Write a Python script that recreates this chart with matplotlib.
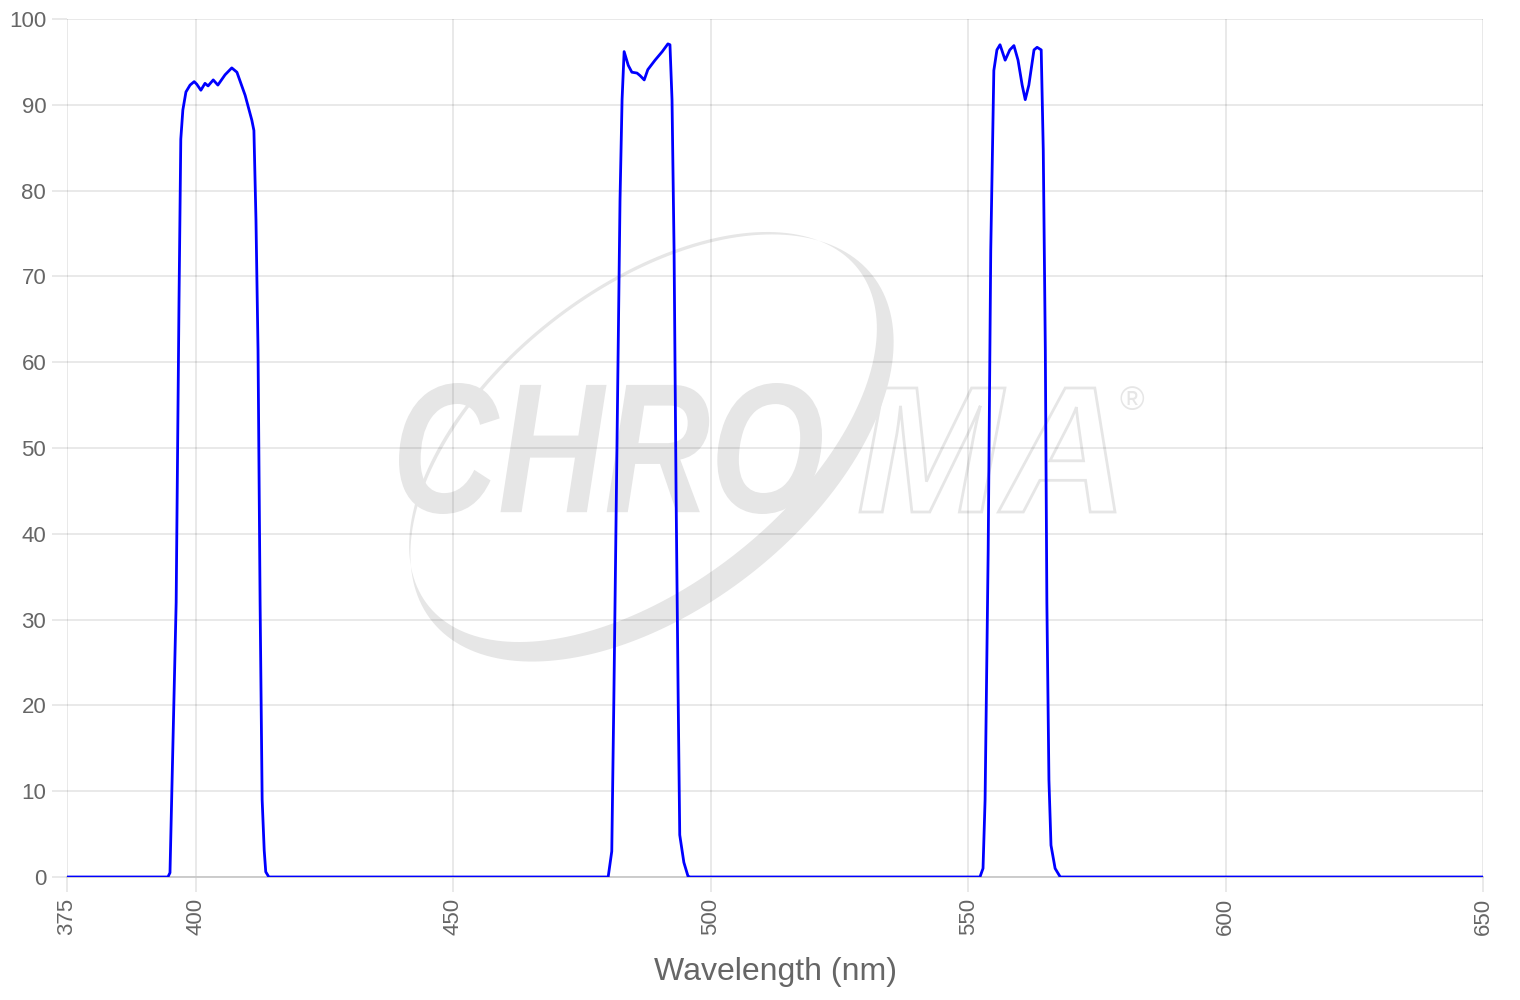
import numpy as np
import matplotlib
matplotlib.use("Agg")
import matplotlib.pyplot as plt
from matplotlib.textpath import TextPath
from matplotlib.font_manager import FontProperties
from matplotlib.patches import PathPatch
from matplotlib.path import Path
from matplotlib.transforms import Affine2D

plt.rcParams['font.family'] = ['Liberation Sans', 'DejaVu Sans']

# transmission bands (wavelength nm, %T)
band1_wl = [394.6, 395.0, 395.4, 396.2, 396.75, 397.1, 397.5, 398.1, 398.9, 399.7, 400.2,
            401.0, 401.8, 402.4, 403.4, 404.3, 405.7, 407.0, 408.0, 409.6, 410.9, 411.3,
            411.7, 412.1, 412.5, 412.9, 413.3, 413.6, 414.2]
band1_t = [0.0, 0.5, 11.0, 32.0, 67.0, 86.0, 89.4, 91.5, 92.3, 92.7, 92.4,
           91.7, 92.5, 92.2, 92.9, 92.3, 93.5, 94.3, 93.8, 91.1, 88.2, 87.0,
           76.6, 61.4, 32.0, 9.0, 3.1, 0.6, 0.0]

band2_wl = [480.1, 480.8, 481.2, 481.8, 482.4, 482.8, 483.2, 484.0, 484.7, 485.7, 486.3,
            487.1, 487.8, 489.2, 490.6, 491.7, 492.1, 492.5, 492.9, 493.3, 493.7, 494.0,
            494.8, 495.6, 496.0]
band2_t = [0.0, 3.0, 20.6, 49.8, 78.9, 90.6, 96.2, 94.6, 93.8, 93.7, 93.4,
           92.9, 94.1, 95.2, 96.2, 97.1, 97.0, 90.6, 73.0, 44.0, 20.6, 4.9,
           1.7, 0.1, 0.0]

band3_wl = [552.3, 552.9, 553.3, 553.9, 554.4, 555.0, 555.6, 556.2, 557.2, 558.1, 558.9,
            559.7, 560.5, 561.1, 561.8, 562.8, 563.4, 564.2, 564.6, 565.0, 565.3, 565.7,
            566.1, 566.9, 567.9]
band3_t = [0.0, 1.0, 9.0, 38.0, 73.0, 94.0, 96.4, 97.0, 95.2, 96.4, 96.9,
           95.2, 92.3, 90.6, 92.3, 96.4, 96.7, 96.4, 84.7, 61.4, 32.0, 11.3,
           3.7, 1.0, 0.0]

x_ticks = [375, 400, 450, 500, 550, 600, 650]
y_ticks = [0, 10, 20, 30, 40, 50, 60, 70, 80, 90, 100]

wl = [375] + band1_wl + band2_wl + band3_wl + [650]
trans = [0] + band1_t + band2_t + band3_t + [0]

fig = plt.figure(figsize=(15.2, 10), dpi=100)
ax = fig.add_axes([67 / 1520, 1 - 877 / 1000, (1483 - 67) / 1520, (877 - 19) / 1000])

text_c = '#666666'

# watermark (pixel coords of the reference image, converted to inches)
def px(xp, yp):
    return xp / 100.0, (1000 - yp) / 100.0

wm = '#e6e6e6'
tr = fig.dpi_scale_trans


def ellipse_pts(cx, cy, a, b, ang, n=200, rev=False):
    t = np.linspace(0, 2 * np.pi, n)
    if rev:
        t = t[::-1]
    ca, sa = np.cos(np.radians(ang)), np.sin(np.radians(ang))
    xs = cx + a * np.cos(t) * ca - b * np.sin(t) * sa
    ys = cy + a * np.cos(t) * sa + b * np.sin(t) * ca
    return np.column_stack([xs, ys])

cx, cy = px(652, 448)
outer = ellipse_pts(cx, cy, 2.80, 1.60, 38)
ix, iy = px(643, 437)
inner = ellipse_pts(ix, iy, 2.73, 1.49, 38, rev=True)
verts = np.vstack([outer, inner])
codes = ([Path.MOVETO] + [Path.LINETO] * (len(outer) - 2) + [Path.CLOSEPOLY]) * 2
swoosh = PathPatch(Path(verts, codes), facecolor=wm, edgecolor='none',
                   transform=tr, zorder=0.2, clip_on=False)
ax.add_patch(swoosh)

fp = FontProperties(family='Liberation Sans', weight='bold', style='italic')


def word(txt, x0, x1, y0, y1, filled):
    p = TextPath((0, 0), txt, prop=fp, size=1)
    ext = p.get_extents()
    ax0, ay0 = px(x0, y1)
    ax1, ay1 = px(x1, y0)
    t = (Affine2D().translate(-ext.x0, -ext.y0)
         .scale((ax1 - ax0) / ext.width, (ay1 - ay0) / ext.height)
         .translate(ax0, ay0))
    if filled:
        patch = PathPatch(t.transform_path(p), facecolor=wm, edgecolor='none',
                          transform=tr, zorder=0.3, clip_on=False)
    else:
        patch = PathPatch(t.transform_path(p), facecolor='none', edgecolor=wm,
                          lw=2, transform=tr, zorder=0.3, clip_on=False)
    ax.add_patch(patch)

word("CHRO", 399, 822, 383, 514, True)
word("MA", 860, 1115, 388, 512, False)
rx, ry = px(1132, 402)
fig.text(rx / 15.2, ry / 10, "®", fontsize=24, color=wm, ha='center', va='center',
         zorder=0.3)

ax.plot(wl, trans, color='#0000ff', lw=2.0, zorder=3)

ax.set_xlim(375, 650)
ax.set_ylim(0, 100)
ax.set_xticks(x_ticks)
ax.set_yticks(y_ticks)
ax.set_xticklabels([str(v) for v in x_ticks], rotation=90)
ax.set_axisbelow(True)
ax.grid(True, color='black', alpha=0.11, lw=1.1, zorder=0.5)
for s in ['top', 'right', 'left']:
    ax.spines[s].set_visible(False)
ax.spines['bottom'].set_color('#c8c8c8')
ax.spines['bottom'].set_linewidth(1.3)
ax.tick_params(axis='both', length=11, width=1.1, color='#e3e3e3', labelcolor=text_c,
               labelsize=16, pad=4)
ax.set_facecolor('none')
ax.set_xlabel('Wavelength (nm)', fontsize=23, color=text_c, labelpad=16)

fig.savefig('out.png', dpi=100, facecolor='white')
